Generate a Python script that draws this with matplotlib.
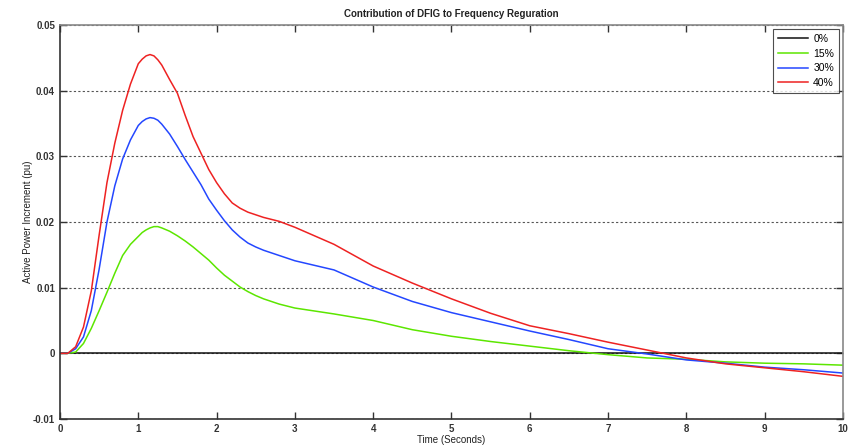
import matplotlib

matplotlib.use("Agg")

import matplotlib.pyplot as plt

plt.rcParams["font.family"] = ["Liberation Sans", "DejaVu Sans"]

# time axis (seconds)
time = [0, 0.1, 0.2, 0.3, 0.4, 0.5, 0.6, 0.7, 0.8, 0.9, 1.0, 1.05, 1.1, 1.15,
        1.2, 1.25, 1.3, 1.4, 1.5, 1.6, 1.7, 1.8, 1.9, 2.0, 2.1, 2.2, 2.3, 2.4,
        2.5, 2.6, 2.8, 3.0, 3.5, 4.0, 4.5, 5.0, 5.5, 6.0, 6.5, 7.0, 7.5, 8.0,
        8.5, 9.0, 9.5, 10.0]

p0 = [0.0] * len(time)
p15 = [0, 0, 0.0002, 0.0015, 0.0038, 0.0065, 0.0093, 0.0122, 0.0149, 0.0166,
       0.0178, 0.0184, 0.0188, 0.0191, 0.0193, 0.0193, 0.0191, 0.0186, 0.0179,
       0.0171, 0.0162, 0.0152, 0.0142, 0.0130, 0.0119, 0.0110, 0.0101, 0.0094,
       0.0088, 0.0083, 0.0075, 0.0069, 0.0060, 0.0050, 0.0036, 0.0026, 0.0018,
       0.0011, 0.0004, -0.0002, -0.0007, -0.0009, -0.0013, -0.0015, -0.0016,
       -0.0018]
p30 = [0, 0, 0.0007, 0.0025, 0.0065, 0.0128, 0.0200, 0.0255, 0.0296, 0.0325,
       0.0347, 0.0353, 0.0357, 0.0359, 0.0358, 0.0355, 0.0349, 0.0334, 0.0315,
       0.0295, 0.0276, 0.0257, 0.0235, 0.0218, 0.0202, 0.0188, 0.0177, 0.0168,
       0.0162, 0.0157, 0.0149, 0.0141, 0.0127, 0.0101, 0.0079, 0.0062, 0.0048,
       0.0034, 0.0021, 0.0007, -0.0001, -0.0010, -0.0015, -0.0021, -0.0025,
       -0.0030]
p40 = [0, 0, 0.0010, 0.0040, 0.0095, 0.0180, 0.0260, 0.0320, 0.0370, 0.0410,
       0.0441, 0.0448, 0.0453, 0.0455, 0.0453, 0.0447, 0.0439, 0.0417, 0.0396,
       0.0362, 0.0330, 0.0305, 0.0280, 0.0260, 0.0243, 0.0229, 0.0221, 0.0215,
       0.0211, 0.0207, 0.0201, 0.0192, 0.0166, 0.0133, 0.0107, 0.0083, 0.0061,
       0.0042, 0.0030, 0.0017, 0.0005, -0.0007, -0.0016, -0.0022, -0.0028,
       -0.0035]

labels = ["0%", "15%", "30%", "40%"]
colors = ["#111111", "#5ce600", "#2447ff", "#ee2222"]

fig = plt.figure(figsize=(8.52, 4.45), dpi=100)
ax = fig.add_axes([0.0704, 0.0584, 0.919, 0.8854])

for series, lab, col in zip([p0, p15, p30, p40], labels, colors):
    ax.plot(time, series, color=col, lw=1.1, label=lab)

ax.set_xlim(0, 10)
ax.set_ylim(-0.01, 0.05)
ax.set_xticks(range(0, 11))
ax.set_yticks([-0.01, 0, 0.01, 0.02, 0.03, 0.04, 0.05])
ax.set_yticklabels(["-0.01", "0", "0.01", "0.02", "0.03", "0.04", "0.05"])
ax.yaxis.grid(True, linestyle=(0, (2, 2)), color="#555555", lw=0.8)
ax.tick_params(direction="in", top=True, right=True, labelsize=7,
               colors="#333333", length=5, width=1)
for lab in ax.get_xticklabels() + ax.get_yticklabels():
    lab.set_fontweight("bold")

for side in ["left", "bottom"]:
    ax.spines[side].set_color("#333333")
    ax.spines[side].set_linewidth(1.2)
for side in ["top", "right"]:
    ax.spines[side].set_color("#888888")
    ax.spines[side].set_linewidth(1.2)

ax.set_title("Contribution of DFIG to Frequency Reguration", fontsize=7,
             fontweight="bold", color="#222222", pad=6)
ax.set_xlabel("Time (Seconds)", fontsize=7, color="#222222", labelpad=1)
ax.set_ylabel("Active Power Increment (pu)", fontsize=7, color="#222222",
              labelpad=0)

leg = ax.legend(loc="upper right", fontsize=7.5, frameon=True, fancybox=False,
                edgecolor="#222222", handlelength=2.9, handletextpad=0.5,
                borderpad=0.45, labelspacing=0.45, borderaxespad=0.4)
leg.get_frame().set_linewidth(0.8)

fig.savefig("out.png", dpi=100)
